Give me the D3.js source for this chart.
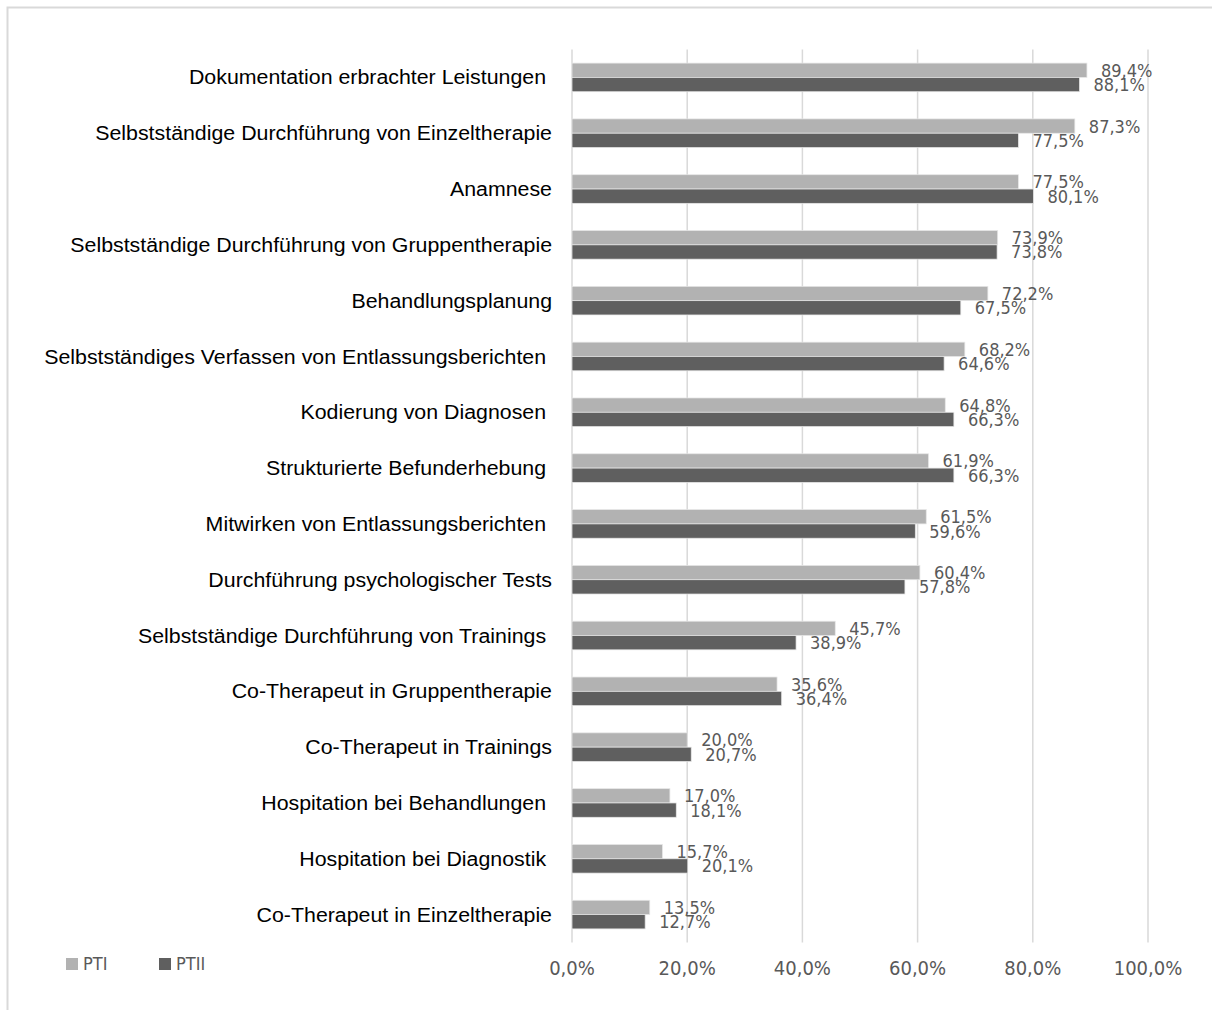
<!DOCTYPE html>
<html>
<head>
  <meta charset="UTF-8">
  <title>Tätigkeiten PTI / PTII</title>
  <script src="https://d3js.org/d3.v7.min.js"></script>
  <style>
    body { margin: 0; background: #fff; }
    .cat { font-family: "Liberation Sans", Arial, sans-serif; white-space: pre; }
    .num { font-family: "DejaVu Sans Condensed", "DejaVu Sans", sans-serif; font-stretch: condensed; }
  </style>
</head>
<body>
  <div id="chart"></div>
  <script>
    const categories = [
      "Dokumentation erbrachter Leistungen ",
      "Selbstständige Durchführung von Einzeltherapie",
      "Anamnese",
      "Selbstständige Durchführung von Gruppentherapie",
      "Behandlungsplanung",
      "Selbstständiges Verfassen von Entlassungsberichten ",
      "Kodierung von Diagnosen ",
      "Strukturierte Befunderhebung ",
      "Mitwirken von Entlassungsberichten ",
      "Durchführung psychologischer Tests",
      "Selbstständige Durchführung von Trainings ",
      "Co-Therapeut in Gruppentherapie",
      "Co-Therapeut in Trainings",
      "Hospitation bei Behandlungen ",
      "Hospitation bei Diagnostik ",
      "Co-Therapeut in Einzeltherapie"
    ];
    const seriesNames = ["PTI", "PTII"];
    const pti  = [89.4, 87.3, 77.5, 73.9, 72.2, 68.2, 64.8, 61.9, 61.5, 60.4, 45.7, 35.6, 20.0, 17.0, 15.7, 13.5];
    const ptii = [88.1, 77.5, 80.1, 73.8, 67.5, 64.6, 66.3, 66.3, 59.6, 57.8, 38.9, 36.4, 20.7, 18.1, 20.1, 12.7];
    const ticks = [0, 20, 40, 60, 80, 100];
    const colors = ["#b2b2b2", "#5f5f5f"];

    const width = 1212, height = 1010;
    const fmt = v => d3.format(".1f")(v).replace(".", ",") + "%";

    const data = categories.map((c, i) => ({ cat: c, values: [pti[i], ptii[i]] }));

    const svg = d3.select("#chart").append("svg")
      .attr("width", width)
      .attr("height", height);

    // frame
    svg.append("rect")
      .attr("x", 7.5).attr("y", 7.5)
      .attr("width", width + 10).attr("height", height + 10)
      .attr("fill", "none")
      .attr("stroke", "#d9d9d9")
      .attr("stroke-width", 2);

    const x = d3.scaleLinear().domain([0, 100]).range([572, 1148]);
    const y = d3.scaleBand().domain(categories).range([49.5, 942.5]).padding(0);
    const ys = d3.scaleBand().domain(seriesNames).range([0, y.bandwidth()]).paddingInner(0).paddingOuter(0.95);

    // gridlines
    svg.append("g")
      .selectAll("line")
      .data(ticks)
      .join("line")
      .attr("x1", d => x(d)).attr("x2", d => x(d))
      .attr("y1", y.range()[0]).attr("y2", y.range()[1])
      .attr("stroke", "#d9d9d9")
      .attr("stroke-width", 1.5);

    // x tick labels
    svg.append("g")
      .selectAll("text")
      .data(ticks)
      .join("text")
      .attr("class", "num")
      .attr("x", d => x(d))
      .attr("y", 968)
      .attr("dy", "0.36em")
      .attr("text-anchor", "middle")
      .attr("fill", "#595959")
      .style("font-size", "20px")
      .text(d => fmt(d));

    // category labels (slightly wide, like the original)
    svg.append("g")
      .selectAll("text")
      .data(categories)
      .join("text")
      .attr("class", "cat")
      .attr("transform", d => "translate(552," + (y(d) + y.bandwidth() / 2) + ") scale(1.095,1)")
      .attr("dy", "0.36em")
      .attr("text-anchor", "end")
      .attr("fill", "#000")
      .style("font-size", "19.5px")
      .text(d => d);

    const rows = svg.append("g")
      .selectAll("g")
      .data(data)
      .join("g")
      .attr("transform", d => "translate(0," + y(d.cat) + ")");

    rows.selectAll("rect")
      .data(d => d.values.map((v, k) => ({ key: seriesNames[k], v: v, k: k })))
      .join("rect")
      .attr("x", x(0))
      .attr("y", d => ys(d.key))
      .attr("width", d => x(d.v) - x(0))
      .attr("height", ys.bandwidth())
      .attr("fill", d => colors[d.k])
      .attr("stroke", "#e6e6e6")
      .attr("stroke-width", 0.75);

    rows.selectAll("text")
      .data(d => d.values.map((v, k) => ({ key: seriesNames[k], v: v, k: k })))
      .join("text")
      .attr("class", "num")
      .attr("x", d => x(d.v) + 14)
      .attr("y", d => ys(d.key) + ys.bandwidth() / 2)
      .attr("dy", "0.36em")
      .attr("fill", "#595959")
      .style("font-size", "18px")
      .text(d => fmt(d.v));

    // legend
    const legend = svg.append("g")
      .selectAll("g")
      .data(seriesNames)
      .join("g")
      .attr("transform", (d, i) => "translate(" + (66 + i * 93) + ",964)");

    legend.append("rect")
      .attr("x", 0).attr("y", -6)
      .attr("width", 12).attr("height", 12)
      .attr("fill", (d, i) => colors[i]);

    legend.append("text")
      .attr("class", "num")
      .attr("x", 17)
      .attr("y", 0)
      .attr("dy", "0.36em")
      .attr("fill", "#595959")
      .style("font-size", "18px")
      .text(d => d);
  </script>
</body>
</html>
